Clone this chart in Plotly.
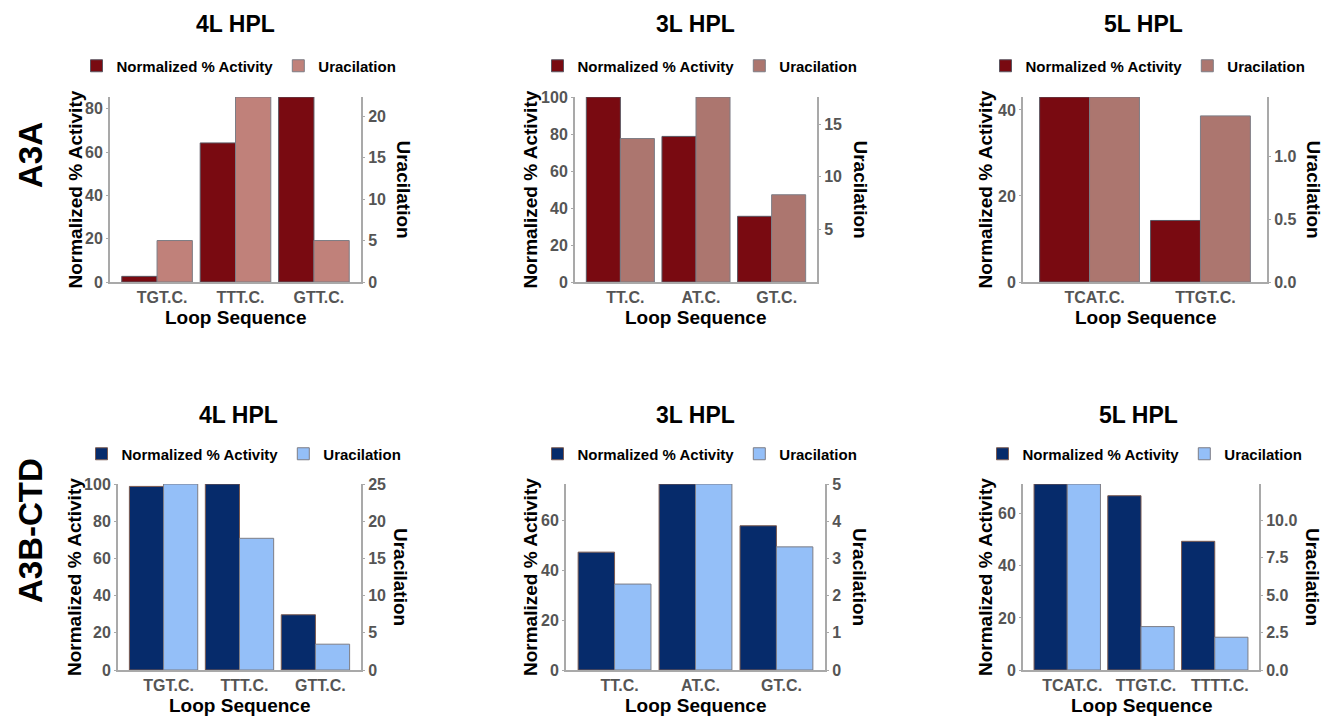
import plotly.graph_objects as go

W, H = 1324, 716

# ---------------- data ----------------
row_labels = ["A3A", "A3B-CTD"]
panel_titles = ["4L HPL", "3L HPL", "5L HPL", "4L HPL", "3L HPL", "5L HPL"]

cats_4L = ["TGT.C.", "TTT.C.", "GTT.C."]
cats_3L = ["TT.C.", "AT.C.", "GT.C."]
cats_5L_a3a = ["TCAT.C.", "TTGT.C."]
cats_5L_a3b = ["TCAT.C.", "TTGT.C.", "TTTT.C."]

a3a_4L_activity = [2.6, 64.2, 85.4]
a3a_4L_uracil = [5.0, 22.3, 5.0]
a3a_3L_activity = [100.0, 78.7, 35.5]
a3a_3L_uracil = [13.65, 17.6, 8.3]
a3a_5L_activity = [43.0, 14.3]
a3a_5L_uracil = [1.47, 1.32]

a3b_4L_activity = [98.7, 100.0, 29.7]
a3b_4L_uracil = [25.0, 17.7, 3.47]
a3b_3L_activity = [47.4, 74.8, 58.0]
a3b_3L_uracil = [2.31, 5.0, 3.31]
a3b_5L_activity = [71.4, 66.9, 49.4]
a3b_5L_uracil = [12.43, 2.9, 2.19]

# tick values
left_ticks = [[0, 20, 40, 60, 80], [0, 20, 40, 60, 80, 100], [0, 20, 40],
              [0, 20, 40, 60, 80, 100], [0, 20, 40, 60], [0, 20, 40, 60]]
right_ticks = [[0, 5, 10, 15, 20], [5, 10, 15], [0.0, 0.5, 1.0],
               [0, 5, 10, 15, 20, 25], [0, 1, 2, 3, 4, 5], [0.0, 2.5, 5.0, 7.5, 10.0]]
right_fmt = ["d", "d", ".1f", "d", "d", ".1f"]

panels = [
    (cats_4L, a3a_4L_activity, a3a_4L_uracil),
    (cats_3L, a3a_3L_activity, a3a_3L_uracil),
    (cats_5L_a3a, a3a_5L_activity, a3a_5L_uracil),
    (cats_4L, a3b_4L_activity, a3b_4L_uracil),
    (cats_3L, a3b_3L_activity, a3b_3L_uracil),
    (cats_5L_a3b, a3b_5L_activity, a3b_5L_uracil),
]

# ---------------- style / layout ----------------
FONT = "Liberation Sans, Arial, sans-serif"
act_colors = ["#790A11", "#790A11", "#790A11", "#062B6B", "#062B6B", "#062B6B"]
ura_colors = ["#C0817A", "#AC766F", "#AC766F", "#94BFF8", "#94BFF8", "#94BFF8"]
act_line = ["#5a5560", "#5a5560", "#5a5560", "#7a5a50", "#7a5a50", "#7a5a50"]
ura_line = "#7d7d85"
AXC = "#a9a9a9"
TICKC = "#555555"
TICKSIZE = 16

# plot areas in pixels: (left, right, top, bottom)
boxes = [
    (110, 361, 97, 282), (575, 817, 97, 282), (1023, 1267, 97, 282),
    (118, 361, 484, 670), (566, 825, 484, 670), (1023, 1259, 484, 670),
]
title_pos = [(235, 24), (695, 24), (1143, 24), (238, 415), (695, 415), (1138, 415)]
legend_pos = [(239, 66), (700, 66), (1148, 66), (244, 454), (700, 454), (1145, 454)]
left_title_x = [75, 530, 985, 74, 530, 985]
right_title_x = [403, 860, 1313, 401, 860, 1313]
xtitle_y = [318, 318, 318, 705, 705, 705]


def px(x):
    return x / W


def py(y):
    return 1 - y / H


fig = go.Figure()
layout = dict(
    width=W, height=H,
    margin=dict(l=0, r=0, t=0, b=0, autoexpand=False),
    paper_bgcolor="white", plot_bgcolor="white",
    barmode="overlay",
    font=dict(family=FONT, color="black"),
    annotations=[],
)

for k, (cats, act, ura) in enumerate(panels):
    i = k + 1
    xa = "x" if i == 1 else f"x{i}"
    ya_l = "y" if i == 1 else f"y{2 * i - 1}"
    ya_r = f"y{2 * i}"
    leg = "legend" if i == 1 else f"legend{i}"

    fig.add_trace(go.Bar(
        x=cats, y=act, name="Normalized % Activity",
        xaxis=xa, yaxis=ya_l, legend=leg,
        width=0.45, offset=-0.45,
        marker=dict(color=act_colors[k], line=dict(color=act_line[k], width=1)),
    ))
    fig.add_trace(go.Bar(
        x=cats, y=ura, name="Uracilation",
        xaxis=xa, yaxis=ya_r, legend=leg,
        width=0.45, offset=0.0,
        marker=dict(color=ura_colors[k], line=dict(color=ura_line, width=1)),
    ))

    l, r, t, b = boxes[k]
    xkey = "xaxis" if i == 1 else f"xaxis{i}"
    ylkey = "yaxis" if i == 1 else f"yaxis{2 * i - 1}"
    yrkey = f"yaxis{2 * i}"
    n = len(cats)
    layout[xkey] = dict(
        domain=[px(l), px(r)], anchor=ya_l, type="category",
        range=[-0.6, n - 1 + 0.6], automargin=False,
        showline=True, linecolor=AXC, linewidth=2, showgrid=False, zeroline=False,
        ticks="", ticklabelshift=5,
        tickfont=dict(family=FONT, size=TICKSIZE, color=TICKC, weight="bold"),
    )
    layout[ylkey] = dict(
        domain=[py(b), py(t)], anchor=xa, automargin=False,
        range=[0, max(act)],
        tickvals=left_ticks[k],
        showline=True, linecolor=AXC, linewidth=2, showgrid=False, zeroline=False,
        ticks="outside", ticklen=2, tickcolor=AXC, tickwidth=1,
        tickfont=dict(family=FONT, size=TICKSIZE, color=TICKC, weight="bold"),
    )
    layout[yrkey] = dict(
        overlaying=ya_l, side="right", anchor=xa, automargin=False,
        range=[0, max(ura)],
        tickvals=right_ticks[k], tickformat=right_fmt[k],
        showline=True, linecolor=AXC, linewidth=2, showgrid=False, zeroline=False,
        ticks="outside", ticklen=2, tickcolor=AXC, tickwidth=1,
        tickfont=dict(family=FONT, size=TICKSIZE, color=TICKC, weight="bold"),
    )
    lx, ly = legend_pos[k]
    layout[leg] = dict(
        orientation="h", x=px(lx), y=py(ly), xanchor="center", yanchor="middle",
        xref="paper", yref="paper",
        font=dict(family=FONT, size=15, color="black", weight="bold"),
        bgcolor="rgba(0,0,0,0)", itemwidth=30, traceorder="normal",
    )

    tx, ty = title_pos[k]
    layout["annotations"].append(dict(
        text=panel_titles[k], x=px(tx), y=py(ty), xref="paper", yref="paper",
        showarrow=False, xanchor="center", yanchor="middle",
        font=dict(family=FONT, size=23, color="black", weight="bold"),
    ))
    layout["annotations"].append(dict(
        text="Loop Sequence", x=px((l + r) / 2), y=py(xtitle_y[k]), xref="paper", yref="paper",
        showarrow=False, xanchor="center", yanchor="middle",
        font=dict(family=FONT, size=19, color="black", weight="bold"),
    ))
    layout["annotations"].append(dict(
        text="Normalized % Activity", x=px(left_title_x[k]), y=py((t + b) / 2),
        xref="paper", yref="paper", textangle=-90,
        showarrow=False, xanchor="center", yanchor="middle",
        font=dict(family=FONT, size=19, color="black", weight="bold"),
    ))
    layout["annotations"].append(dict(
        text="Uracilation", x=px(right_title_x[k]), y=py((t + b) / 2),
        xref="paper", yref="paper", textangle=90,
        showarrow=False, xanchor="center", yanchor="middle",
        font=dict(family=FONT, size=19, color="black", weight="bold"),
    ))

for label, yc in zip(row_labels, [155, 531]):
    layout["annotations"].append(dict(
        text=label, x=px(30), y=py(yc), xref="paper", yref="paper", textangle=-90,
        showarrow=False, xanchor="center", yanchor="middle",
        font=dict(family=FONT, size=33, color="black", weight="bold"),
    ))

fig.update_layout(**layout)
fig.write_html(
    "out.html",
    config={"displayModeBar": False},
    post_script="document.body.style.margin='0';document.body.style.overflow='hidden';",
)
